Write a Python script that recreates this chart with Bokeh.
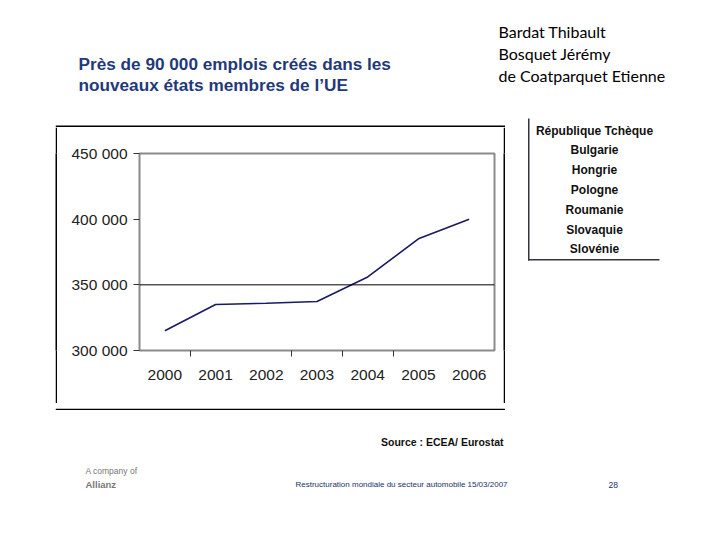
from bokeh.plotting import figure
from bokeh.models import FixedTicker, Span, Label, BoxAnnotation, Range1d, Spacer
from bokeh.layouts import row, column
from bokeh.embed import file_html
from bokeh.resources import INLINE

# ---- data ----
years = [2000, 2001, 2002, 2003, 2004, 2005, 2006]
employment = [315000, 335000, 336000, 337300, 356000, 385000, 400000]
y_ticks = [300000, 350000, 400000, 450000]
y_tick_labels = ["300 000", "350 000", "400 000", "450 000"]
year_labels = ["2000", "2001", "2002", "2003", "2004", "2005", "2006"]
x_minor_ticks = [2000.5, 2002.5, 2003.5, 2004.5]
title_lines = ["Près de 90 000 emplois créés dans les", "nouveaux états membres de l’UE"]
authors = ["Bardat Thibault", "Bosquet Jérémy", "de Coatparquet Etienne"]
countries = ["République Tchèque", "Bulgarie", "Hongrie", "Pologne",
             "Roumanie", "Slovaquie", "Slovénie"]
source_text = "Source : ECEA/ Eurostat"
footer_company = "A company of"
footer_brand = "Allianz"
footer_mid = "Restructuration mondiale du secteur automobile"
footer_date = "15/03/2007"
footer_page = "28"

FONT = "Liberation Sans"


def blank(w, h, bg="white"):
    """A panel whose data coordinates are its pixel coordinates (y down)."""
    f = figure(width=w, height=h, output_backend="svg", toolbar_location=None,
               x_range=Range1d(0, w), y_range=Range1d(h, 0),
               x_axis_location=None, y_axis_location=None,
               min_border=0, min_border_left=0, min_border_right=0,
               min_border_top=0, min_border_bottom=0)
    f.grid.visible = False
    f.outline_line_color = None
    f.background_fill_color = bg
    f.border_fill_color = bg
    return f


def lab(f, text, x, y, size, font=FONT, color="#111111", style="normal",
        align="left"):
    f.add_layout(Label(x=x, y=y, text=text, text_font=font, text_font_size=size,
                       text_color=color, text_font_style=style,
                       text_align=align, text_baseline="middle"))


def bar(f, left, right, top, bottom, color="black"):
    f.add_layout(BoxAnnotation(left=left, right=right, top=top, bottom=bottom,
                               fill_color=color, fill_alpha=1, line_color=None))


# ---- top panel: title + authors ----
top = blank(704, 110)
for i, t in enumerate(title_lines):
    lab(top, t, 78, 63 + 21 * i, "17.2px", color="#1f3a7a", style="bold")
for i, t in enumerate(authors):
    lab(top, t, 498, 31 + 22 * i, "16px", font="Lato", color="#000000")

# ---- chart (inside a 2px black frame) ----
CW, CH = 446, 276
c = figure(width=CW, height=CH, output_backend="svg", toolbar_location=None,
           x_range=(1999.5, 2006.5), y_range=(300000, 450000),
           min_border_left=82, min_border_right=9,
           min_border_top=26, min_border_bottom=53)
c.grid.visible = False
c.outline_line_color = "#8a8a8a"
c.outline_line_width = 2
c.background_fill_color = "white"
c.border_fill_color = "white"

c.yaxis.ticker = FixedTicker(ticks=y_ticks)
c.yaxis.major_label_overrides = {t: l for t, l in zip(y_ticks, y_tick_labels)}
c.yaxis.axis_line_color = None
c.yaxis.major_tick_line_color = "#333333"
c.yaxis.major_tick_out = 6
c.yaxis.major_tick_in = 0
c.yaxis.minor_tick_line_color = None
c.yaxis.major_label_text_font = FONT
c.yaxis.major_label_text_font_size = "15.5px"
c.yaxis.major_label_text_color = "#222222"
c.yaxis.major_label_standoff = 6

c.xaxis.ticker = FixedTicker(ticks=years, minor_ticks=x_minor_ticks)
c.xaxis.major_label_overrides = {y: l for y, l in zip(years, year_labels)}
c.xaxis.axis_line_color = None
c.xaxis.major_tick_line_color = None
c.xaxis.major_tick_out = 0
c.xaxis.major_tick_in = 0
c.xaxis.minor_tick_line_color = "#333333"
c.xaxis.minor_tick_out = 6
c.xaxis.minor_tick_in = 0
c.xaxis.major_label_text_font = FONT
c.xaxis.major_label_text_font_size = "15.5px"
c.xaxis.major_label_text_color = "#222222"
c.xaxis.major_label_standoff = 13

c.add_layout(Span(location=350000, dimension="width", line_color="black", line_width=1))
c.line(years, employment, line_color="#1a1a66", line_width=1.6)

# frame pieces: top strip (with bottom 2px black), side bars, bottom strip
above_chart = blank(CW + 4, 17)
bar(above_chart, 0, CW + 4, 15, 17)
below_chart = blank(CW + 4, 7)
bar(below_chart, 0, CW + 4, 0, 2)
frame_v = lambda h: blank(2, h, bg="black")
chart_col = column(above_chart,
                   row(frame_v(CH), c, frame_v(CH)),
                   below_chart)

# ---- right panel: country list ----
right = blank(199, 300)
for i, t in enumerate(countries):
    lab(right, t, 89, 20 + 19.8 * i, "12px", style="bold", align="center")
bar(right, 22.5, 24, 8, 150, color="#333344")
bar(right, 22.5, 154, 148.5, 150, color="#333344")

# ---- footer ----
foot = blank(704, 114)
lab(foot, source_text, 503, 31, "10.5px", style="bold", align="right")
lab(foot, footer_company, 85, 60, "8.5px", color="#777777")
lab(foot, footer_brand, 85, 74, "9.5px", color="#777777", style="bold")
lab(foot, footer_mid, 295, 74, "8px", color="#223366")
lab(foot, footer_date, 467, 74, "8px", color="#223366")
lab(foot, footer_page, 608, 74, "8.5px", color="#223366")

middle = row(Spacer(width=55, height=300), chart_col, right)
layout = column(top, middle, foot)

open("out.html", "w").write(file_html(layout, INLINE))
